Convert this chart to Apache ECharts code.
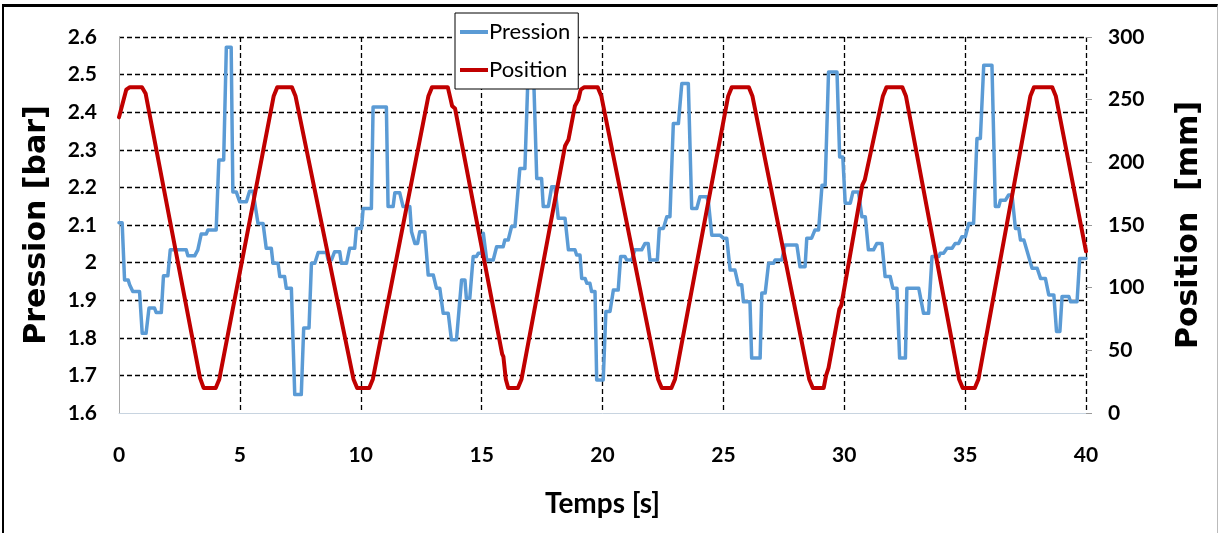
<!DOCTYPE html>
<html>
<head>
<meta charset="utf-8">
<script src="https://cdn.jsdelivr.net/npm/echarts@6/dist/echarts.min.js"></script>
<style>
  html, body { margin: 0; padding: 0; background: #fff; }
  #wrap { position: relative; width: 1218px; height: 533px; }
  #chart { position: absolute; left: 0; top: 0; width: 1218px; height: 533px; }
  #frame { position: absolute; left: 2px; top: 4px; width: 1213px; height: 526px;
           border-top: 3px solid #000; border-left: 2px solid #000;
           border-right: 1px solid #bbb; border-bottom: 1px solid #bbb; pointer-events: none; }
</style>
</head>
<body>
<div id="wrap"><div id="chart"></div><div id="frame"></div></div>
<script>
// ---- Data ----
const xTicks = [0, 5, 10, 15, 20, 25, 30, 35, 40];

const pressionTime = [
  0, 0.13, 0.23, 0.38, 0.44, 0.52, 0.57, 0.85, 0.96, 1.12, 1.24, 1.47, 1.54, 1.75, 1.84, 2.02,
  2.12, 2.78, 2.85, 3.13, 3.26, 3.33, 3.40, 3.61, 3.68, 4.02, 4.13, 4.33, 4.44, 4.64, 4.71, 4.85,
  4.99, 5.27, 5.40, 5.54, 5.75, 5.96, 6.09, 6.30, 6.37, 6.58, 6.65, 6.85, 6.92, 7.13, 7.27, 7.54,
  7.64, 7.86, 7.96, 8.10, 8.24, 8.58, 8.65, 8.79, 8.92, 9.13, 9.20, 9.41, 9.54, 9.75,
  9.82, 10.03, 10.10, 10.44, 10.51, 11.06, 11.13, 11.34, 11.41, 11.61, 11.75, 12.03, 12.10, 12.17,
  12.24, 12.35, 12.44, 12.65, 12.79, 13.0, 13.13, 13.27, 13.41, 13.62, 13.75, 13.96, 14.17, 14.31,
  14.37, 14.51, 14.65, 14.79, 14.86, 15.0, 15.07, 15.12, 15.21, 15.48, 15.62, 15.89, 15.96, 16.10,
  16.24, 16.38, 16.45, 16.52, 16.58, 16.79, 16.93, 17.14, 17.28, 17.48, 17.55, 17.76, 17.90, 18.03,
  18.17, 18.45, 18.59, 18.86,
  18.93, 19.07, 19.14, 19.28, 19.35, 19.48, 19.55, 19.69, 19.76, 20.03, 20.14, 20.31, 20.45, 20.65,
  20.75, 20.93, 21.0, 21.21, 21.34, 21.62, 21.76, 21.89, 21.96, 22.27, 22.35, 22.52, 22.66, 22.79,
  22.93, 23.14, 23.28, 23.55, 23.69, 23.90, 24.03, 24.31, 24.38, 24.45, 24.52, 24.86, 25.0, 25.14,
  25.28, 25.48, 25.62, 25.76, 25.83, 26.1, 26.17, 26.52, 26.59, 26.73, 26.87, 27.07, 27.14, 27.42,
  27.55, 28.04, 28.17, 28.38, 28.45, 28.65, 28.79, 28.94,
  29.08, 29.21, 29.35, 29.70, 29.81, 29.94, 30.04, 30.25, 30.36, 30.59, 30.73, 30.87, 31.0, 31.21,
  31.35, 31.56, 31.69, 31.9, 32.01, 32.18, 32.29, 32.53, 32.59, 33.08, 33.28, 33.49, 33.63, 33.91,
  33.97, 34.11, 34.25, 34.46, 34.59, 34.73, 34.87, 35.01, 35.15, 35.35, 35.49, 35.63, 35.77, 36.11,
  36.25, 36.39, 36.46, 36.67, 36.80, 36.94, 37.08, 37.22, 37.29, 37.43, 37.77, 37.98, 38.12, 38.32,
  38.46, 38.67, 38.78, 38.92, 39.01, 39.29, 39.36, 39.63, 39.74, 40
];
const pressionValues = [
  2.106, 2.106, 1.954, 1.954, 1.941, 1.941, 1.923, 1.923, 1.812, 1.812, 1.879, 1.879, 1.867, 1.867, 1.965, 1.965,
  2.034, 2.034, 2.018, 2.018, 2.034, 2.034, 2.076, 2.076, 2.087, 2.087, 2.273, 2.273, 2.573, 2.573, 2.188, 2.188,
  2.162, 2.162, 2.190, 2.190, 2.104, 2.104, 2.038, 2.038, 1.998, 1.998, 1.963, 1.963, 1.932, 1.932, 1.649, 1.649,
  1.826, 1.826, 1.998, 1.998, 2.027, 2.027, 2.007, 2.007, 2.029, 2.029, 1.998, 1.998, 2.038, 2.038,
  2.091, 2.091, 2.144, 2.144, 2.414, 2.414, 2.149, 2.149, 2.186, 2.186, 2.149, 2.149, 2.082, 2.082,
  2.051, 2.051, 2.082, 2.082, 1.967, 1.967, 1.932, 1.932, 1.865, 1.865, 1.795, 1.795, 1.954, 1.954,
  1.905, 1.905, 2.016, 2.016, 2.025, 2.025, 2.078, 2.078, 2.007, 2.007, 2.042, 2.042, 2.060, 2.060,
  2.096, 2.096, 2.149, 2.149, 2.250, 2.250, 2.52, 2.52, 2.224, 2.224, 2.149, 2.149, 2.202, 2.202,
  2.118, 2.118, 2.034, 2.034,
  2.020, 2.020, 1.958, 1.958, 1.945, 1.945, 1.923, 1.923, 1.688, 1.688, 1.870, 1.870, 1.927, 1.927,
  2.016, 2.016, 2.007, 2.007, 2.034, 2.034, 2.051, 2.051, 2.007, 2.007, 2.091, 2.091, 2.122, 2.122,
  2.370, 2.370, 2.476, 2.476, 2.144, 2.144, 2.175, 2.175, 2.162, 2.162, 2.073, 2.073, 2.065, 2.065,
  1.980, 1.980, 1.941, 1.941, 1.896, 1.896, 1.746, 1.746, 1.919, 1.919, 1.998, 1.998, 2.007, 2.007,
  2.047, 2.047, 1.989, 1.989, 2.065, 2.065, 2.087, 2.087,
  2.206, 2.206, 2.507, 2.507, 2.281, 2.281, 2.158, 2.158, 2.188, 2.188, 2.122, 2.122, 2.034, 2.034,
  2.051, 2.051, 1.963, 1.963, 1.932, 1.932, 1.746, 1.746, 1.932, 1.932, 1.865, 1.865, 2.016, 2.016,
  2.025, 2.025, 2.038, 2.038, 2.051, 2.051, 2.069, 2.069, 2.104, 2.104, 2.330, 2.330, 2.525, 2.525,
  2.149, 2.149, 2.166, 2.166, 2.180, 2.180, 2.091, 2.091, 2.060, 2.060, 1.985, 1.985, 1.958, 1.958,
  1.914, 1.914, 1.817, 1.817, 1.910, 1.910, 1.896, 1.896, 2.011, 2.011
];

const positionTime = [
  0, 0.3, 0.45, 0.95, 1.1, 3.35, 3.5, 4.0, 4.15, 6.4, 6.55, 7.15, 7.3, 9.7, 9.85, 10.35, 10.5,
  12.8, 12.95, 13.6, 13.72, 13.78, 13.9, 15.85, 15.9, 16.0, 16.1, 16.5, 16.65, 18.45, 18.59,
  18.86, 19.0, 19.1, 19.25, 19.8, 19.95, 22.3, 22.45, 22.85, 23.0, 25.2, 25.35, 26.05, 26.2,
  28.55, 28.7, 29.15, 29.25, 29.35, 29.8, 29.88, 30.75, 30.85, 31.6, 31.75, 32.4, 32.55, 34.75,
  34.9, 35.4, 35.55, 37.7, 37.85, 38.6, 38.75, 40
];
const positionValues = [
  236, 258, 260, 260, 255, 28, 20, 20, 27, 253, 260, 260, 253, 27, 20, 20, 27,
  253, 260, 260, 250, 245, 243, 47, 45, 27, 20, 20, 27, 213, 218,
  245, 250, 258, 260, 260, 253, 27, 20, 20, 27, 253, 260, 260, 253,
  27, 20, 20, 30, 36, 83, 86, 182, 186, 253, 260, 260, 253, 27,
  20, 20, 27, 253, 260, 260, 253, 129
];

const pressionData = pressionTime.map((t, i) => [t, pressionValues[i]]);
const positionData = positionTime.map((t, i) => [t, positionValues[i]]);

const tickFont = 'Lato, "Open Sans", sans-serif';
const titleFont = '"DejaVu Sans", Verdana, sans-serif';
const dash = [5, 3];

const chart = echarts.init(document.getElementById('chart'), null, { renderer: 'canvas' });
chart.setOption({
  animation: false,
  backgroundColor: '#fff',
  grid: { left: 119, right: 132, top: 37, bottom: 120, containLabel: false },
  legend: {
    data: ['Pression', 'Position'],
    orient: 'vertical',
    left: 455, top: 13,
    padding: [6, 8, 6, 5],
    itemGap: 12,
    itemWidth: 28, itemHeight: 4,
    icon: 'rect',
    backgroundColor: '#fff',
    borderColor: '#000', borderWidth: 1,
    textStyle: { fontFamily: tickFont, fontSize: 22, color: '#000', lineHeight: 26, padding: [0, 0, 0, -4] }
  },
  xAxis: {
    type: 'value', min: 0, max: 40, interval: 5,
    name: 'Temps [s]', nameLocation: 'middle', nameGap: 77,
    nameTextStyle: { fontFamily: tickFont, fontSize: 28, fontWeight: 'bold', color: '#000' },
    axisLine: { show: true, lineStyle: { color: '#c8d4e0', width: 1 } },
    axisTick: { show: false },
    axisLabel: { margin: 32, fontFamily: tickFont, fontSize: 21, fontWeight: 'bold', color: '#000',
                 formatter: v => xTicks.includes(v) ? String(v) : '' },
    splitLine: { show: true, lineStyle: { color: ['rgba(0,0,0,0)', '#000', '#000', '#000', '#000', '#000', '#000', '#000', '#000'], type: dash, width: 1.3 } }
  },
  yAxis: [
    {
      type: 'value', min: 1.6, max: 2.6, interval: 0.1,
      name: 'Pression [bar]', nameLocation: 'middle', nameGap: 67, nameRotate: 90,
      nameTextStyle: { fontFamily: titleFont, fontSize: 30, fontWeight: 'bold', color: '#000' },
      axisLine: { show: true, lineStyle: { color: '#a8a8a8', width: 1 } },
      axisTick: { show: false },
      axisLabel: { margin: 22, fontFamily: tickFont, fontSize: 21, fontWeight: 'bold', color: '#000',
                   formatter: v => String(Math.round(v * 10) / 10) },
      splitLine: { show: true, lineStyle: { color: ['rgba(0,0,0,0)', '#000', '#000', '#000', '#000', '#000', '#000', '#000', '#000', '#000', '#000'], type: dash, width: 1.3 } }
    },
    {
      type: 'value', min: 0, max: 300, interval: 50, position: 'right',
      name: 'Position  [mm]', nameLocation: 'middle', nameGap: 88, nameRotate: 90,
      nameTextStyle: { fontFamily: titleFont, fontSize: 30, fontWeight: 'bold', color: '#000' },
      axisLine: { show: false },
      axisTick: { show: true, length: 6, lineStyle: { color: '#999' } },
      axisLabel: { margin: 22, fontFamily: tickFont, fontSize: 21, fontWeight: 'bold', color: '#000' },
      splitLine: { show: false }
    }
  ],
  series: [
    {
      name: 'Pression', type: 'line', yAxisIndex: 0, data: pressionData,
      showSymbol: false, symbol: 'none',
      lineStyle: { color: '#5B9BD5', width: 3.5, cap: 'round', join: 'round' }, itemStyle: { color: '#5B9BD5' }
    },
    {
      name: 'Position', type: 'line', yAxisIndex: 1, data: positionData,
      showSymbol: false, symbol: 'none',
      lineStyle: { color: '#C00000', width: 4, cap: 'round', join: 'round' }, itemStyle: { color: '#C00000' }
    }
  ]
});
</script>
</body>
</html>
